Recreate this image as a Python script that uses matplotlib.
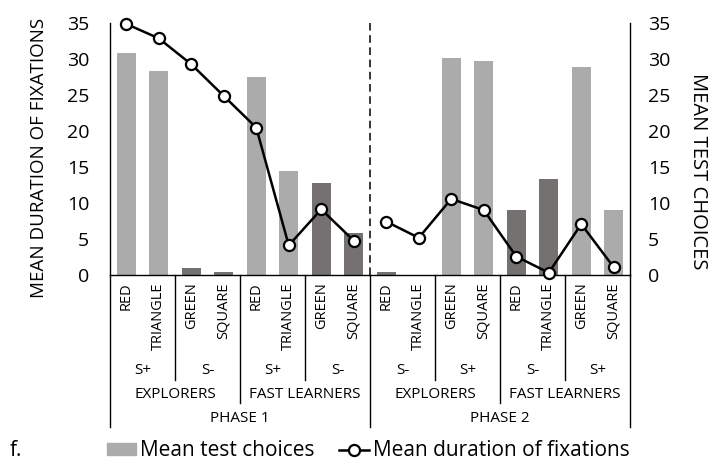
import numpy as np
import matplotlib
matplotlib.use("Agg")
import matplotlib.pyplot as plt
from matplotlib.patches import Patch
from matplotlib.lines import Line2D

plt.rcParams['font.family'] = ['Open Sans', 'DejaVu Sans']

# datos por estímulo (4 por grupo, 2 grupos por fase)
stimuli = ["RED", "TRIANGLE", "GREEN", "SQUARE"] * 4
cues = ["S+", "S-", "S+", "S-", "S-", "S+", "S-", "S+"]
groups = ["EXPLORERS", "FAST LEARNERS", "EXPLORERS", "FAST LEARNERS"]
phases = ["PHASE 1", "PHASE 2"]

test_choices = [30.7, 28.2, 0.95, 0.4, 27.5, 14.4, 12.7, 5.8,
                0.4, 0.0, 30.1, 29.6, 8.95, 13.3, 28.8, 8.95]
fixations = [34.8, 32.8, 29.2, 24.8, 20.4, 4.05, 9.05, 4.7,
             7.35, 5.1, 10.5, 8.95, 2.5, 0.25, 7.0, 1.0]

light = "#ABABAB"
dark = "#767171"

fig = plt.figure(figsize=(7.13, 4.63), dpi=100)
ax = fig.add_axes([110 / 713, 1 - 274.5 / 463, 520 / 713, 252 / 463])
ax2 = ax.twinx()
ax.set_zorder(ax2.get_zorder() + 1)
ax.patch.set_visible(False)

x = np.arange(len(stimuli))
colores = [light if cues[i // 2] == "S+" else dark for i in range(len(stimuli))]
ax2.bar(x, test_choices, width=0.575, color=colores)

# línea de fijaciones, cortada entre fases
for ini in (0, 8):
    ax.plot(x[ini:ini + 8], fixations[ini:ini + 8], color="black", lw=1.8,
            marker="o", ms=8, mfc="white", mec="black", mew=1.6, zorder=5,
            clip_on=False)

ax.axvline(7.5, color="black", lw=1.1, ls=(0, (5, 3)), zorder=1)

for a in (ax, ax2):
    a.set_xlim(-0.5, 15.5)
    a.set_ylim(0, 35)
    a.set_yticks(range(0, 36, 5))
    a.set_xticks([])
    a.tick_params(axis="y", length=0, labelsize=14)
    for s in a.spines.values():
        s.set_visible(False)
ax.tick_params(axis="y", pad=15)
ax2.tick_params(axis="y", pad=13)
ax.spines["left"].set_visible(True)
ax.spines["bottom"].set_visible(True)
ax2.spines["right"].set_visible(True)
for s in (ax.spines["left"], ax.spines["bottom"], ax2.spines["right"]):
    s.set_linewidth(1.0)
    s.set_color("black")

ax.set_ylabel("MEAN DURATION OF FIXATIONS", fontsize=13.5)
ax2.set_ylabel("MEAN TEST CHOICES", fontsize=14.5, rotation=270)
ax.yaxis.set_label_coords(-0.119, 0.462)
ax2.yaxis.set_label_coords(1.15, 0.411)

# ejes de categorías jerárquicos
tr = ax.get_xaxis_transform()
h = 252.0
def linea(xv, px):
    ax.plot([xv, xv], [0, -px / h], color="black", lw=1.0, transform=tr, clip_on=False)

for b in (1.5, 5.5, 9.5, 13.5):
    linea(b, 105)
for b in (3.5, 11.5):
    linea(b, 128)
for b in (-0.5, 7.5, 15.5):
    linea(b, 152)

for i, s in enumerate(stimuli):
    ax.text(i, -8 / h, s, rotation=90, ha="center", va="top", fontsize=10.5,
            transform=tr)
for k, c in enumerate(cues):
    ax.text(2 * k + 0.5, -96.5 / h, c, ha="center", va="center", fontsize=11,
            transform=tr)
for k, g in enumerate(groups):
    ax.text(4 * k + 1.5, -120 / h, g, ha="center", va="center", fontsize=11,
            transform=tr)
for k, p in enumerate(phases):
    ax.text(8 * k + 3.5, -143.5 / h, p, ha="center", va="center", fontsize=11,
            transform=tr)

handles = [Patch(color=light),
           Line2D([], [], color="black", lw=1.8, marker="o", ms=8, mfc="white",
                  mec="black", mew=1.6)]
fig.legend(handles, ["Mean test choices", "Mean duration of fixations"],
           loc="center", bbox_to_anchor=(368 / 713, 1 - 451 / 463), ncol=2,
           frameon=False, fontsize=15, handlelength=1.4, handletextpad=0.2,
           columnspacing=1.2, handleheight=0.55)

fig.text(10 / 713, 1 - 451 / 463, "f.", fontsize=15, va="center", ha="left")

fig.savefig("out.png", dpi=100)
